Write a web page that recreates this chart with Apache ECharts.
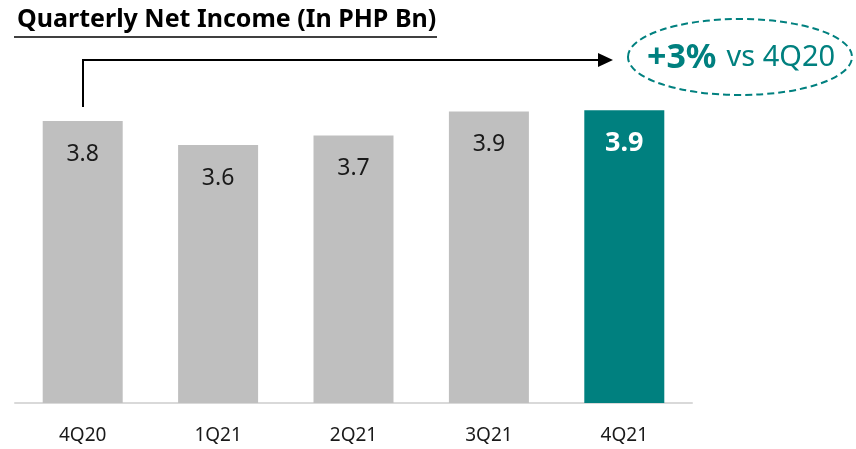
<!DOCTYPE html>
<html>
<head>
<meta charset="utf-8">
<script src="https://cdn.jsdelivr.net/npm/echarts@6/dist/echarts.min.js"></script>
<style>
  html, body { margin: 0; padding: 0; background: #fff; }
  #chart { width: 856px; height: 449px; }
</style>
</head>
<body>
<div id="chart"></div>
<script>
(function () {
  var quarters = ['4Q20', '1Q21', '2Q21', '3Q21', '4Q21'];
  var netIncome = [3.80, 3.60, 3.68, 3.88, 3.89];
  var highlightIdx = 4;
  var growthText = '+3%';
  var growthBase = 'vs 4Q20';

  var GRAY = '#bfbfbf';
  var TEAL = '#00807f';
  var FONT = 'Noto Sans';

  var barData = netIncome.map(function (v, i) {
    var hi = i === highlightIdx;
    return {
      value: v,
      itemStyle: { color: hi ? TEAL : GRAY },
      label: hi ? { color: '#fff', fontWeight: 'bold', fontSize: 27, distance: 20 } : {}
    };
  });

  var c = echarts.init(document.getElementById('chart'), null, { renderer: 'canvas' });
  c.setOption({
    animation: false,
    title: {
      text: 'Quarterly Net Income (In PHP Bn)',
      left: 12, top: 2,
      textStyle: { fontFamily: FONT, fontSize: 25, fontWeight: 'bold', color: '#000' }
    },
    grid: { left: 15, right: 164, top: 97, bottom: 46 },
    xAxis: {
      type: 'category', data: quarters,
      axisTick: { show: false },
      axisLine: { lineStyle: { color: '#d9d9d9', width: 2 } },
      axisLabel: { color: '#1a1a1a', fontSize: 19, fontFamily: FONT, margin: 23 }
    },
    yAxis: { type: 'value', min: 1.45, max: 4.0, show: false, splitLine: { show: false } },
    series: [{
      type: 'bar', data: barData, barWidth: 80,
      label: {
        show: true, position: 'insideTop', distance: 22,
        fontFamily: FONT, fontSize: 23, color: '#1a1a1a',
        formatter: function (p) { return p.value.toFixed(1); }
      }
    }],
    graphic: [
      // title underline
      { type: 'line', shape: { x1: 14, y1: 37, x2: 437, y2: 37 }, style: { stroke: '#000', lineWidth: 1.5 } },
      // connector arrow
      { type: 'polyline', shape: { points: [[83, 107], [83, 60], [600, 60]] }, style: { stroke: '#000', lineWidth: 2, fill: null } },
      { type: 'polygon', shape: { points: [[598, 53], [613, 60], [598, 67]] }, style: { fill: '#000' } },
      // dashed ellipse callout
      { type: 'ellipse', shape: { cx: 740, cy: 57, rx: 112, ry: 38 },
        style: { stroke: TEAL, lineWidth: 2, lineDash: [7, 4], fill: null } },
      { type: 'text', x: 741, y: 58,
        style: {
          text: '{b|' + growthText + '}{n|' + growthBase + '}',
          align: 'center', verticalAlign: 'middle',
          rich: {
            b: { fontFamily: FONT, fontSize: 34, fontWeight: 'bold', fill: TEAL, color: TEAL },
            n: { fontFamily: FONT, fontSize: 29, fill: TEAL, color: TEAL, padding: [0, 0, 0, 10] }
          }
        }
      }
    ]
  });
})();
</script>
</body>
</html>
